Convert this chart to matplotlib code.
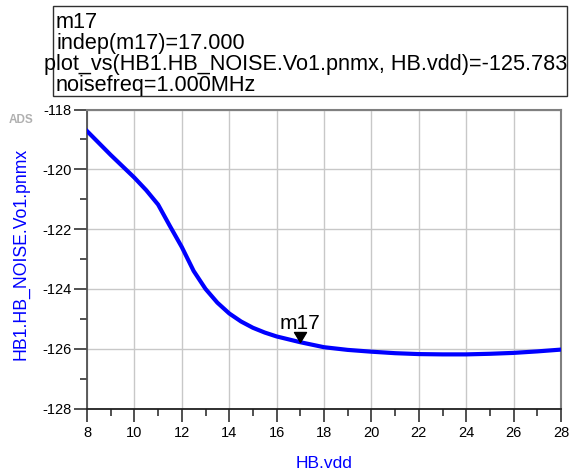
import matplotlib.pyplot as plt
from matplotlib.patches import Rectangle
from matplotlib.path import Path
from matplotlib.ticker import MultipleLocator

plt.rcParams['font.family'] = ['Liberation Sans', 'DejaVu Sans']
plt.rcParams['axes.unicode_minus'] = False

# HB noise sweep: output phase noise at 1 MHz offset vs supply voltage
vdd = [8, 9, 10, 10.5, 11, 11.5, 12, 12.5, 13, 13.5, 14, 14.5, 15, 15.5,
       16, 17, 18, 19, 20, 21, 22, 23, 24, 25, 26, 27, 28]
pnmx = [-118.72, -119.52, -120.28, -120.70, -121.18, -121.90, -122.60,
        -123.40, -124.00, -124.46, -124.82, -125.09, -125.30, -125.46,
        -125.59, -125.783, -125.95, -126.04, -126.10, -126.15, -126.18,
        -126.19, -126.19, -126.17, -126.14, -126.09, -126.03]

marker_name = 'm17'
marker_x = 17.0
marker_y = -125.783
noise_freq = '1.000MHz'

W, H = 573, 472
fig = plt.figure(figsize=(W / 100, H / 100), dpi=100)


def fx(px):
    return px / W


def fy(py):
    return 1 - py / H


# plot area in pixel coordinates
left, right, top, bottom = 87, 561, 109.5, 408.5
ax = fig.add_axes([fx(left), fy(bottom), (right - left) / W, (bottom - top) / H])

ax.plot(vdd, pnmx, color='#0000ff', lw=3, solid_joinstyle='round', zorder=3)

ax.set_xlim(8, 28)
ax.set_ylim(-128, -118)
ax.xaxis.set_major_locator(MultipleLocator(2))
ax.xaxis.set_minor_locator(MultipleLocator(1))
ax.yaxis.set_major_locator(MultipleLocator(2))
ax.yaxis.set_minor_locator(MultipleLocator(1))
ax.grid(which='major', color='#c8c8c8', lw=1.0)
ax.set_axisbelow(True)
ax.tick_params(which='major', direction='out', length=9.3, width=1.1,
               color='#202020', labelsize=10.5, labelcolor='black')
ax.tick_params(which='minor', direction='out', length=4.7, width=1.1,
               color='#202020')
ax.tick_params(axis='y', which='major', pad=1.5)
ax.tick_params(axis='x', which='major', pad=3)

ax.spines['left'].set_color('#505050')
ax.spines['left'].set_linewidth(1.3)
ax.spines['bottom'].set_color('#202020')
ax.spines['bottom'].set_linewidth(1.3)
for side in ('top', 'right'):
    ax.spines[side].set_color('#808080')
    ax.spines[side].set_linewidth(1.5)

# marker: downward triangle with its tip on the curve
tri = Path([(-0.6, 1.0), (0.6, 1.0), (0.0, 0.0), (-0.6, 1.0)],
           [Path.MOVETO, Path.LINETO, Path.LINETO, Path.CLOSEPOLY])
ax.plot([marker_x], [marker_y], marker=tri, ms=14.4, color='black',
        mec='black', lw=0, zorder=4)
ax.annotate(marker_name, (marker_x, marker_y), xytext=(0, 9.5),
            textcoords='offset points', ha='center', va='baseline',
            fontsize=15, zorder=5)

# axis labels
fig.text(fx(324), fy(463), 'HB.vdd', color='#0000ff', fontsize=12.5,
         ha='center', va='center')
fig.text(fx(21), fy(254), 'HB1.HB_NOISE.Vo1.pnmx', color='#0000ff',
         fontsize=12.7, rotation=90, ha='center', va='center')
fig.text(fx(21), fy(120), 'ADS', color='#b0b0b0', fontsize=8.5,
         fontweight='bold', ha='center', va='center')

# marker readout box
fig.patches.append(Rectangle((fx(53), fy(96)), (567 - 53) / W, (96 - 6) / H,
                             transform=fig.transFigure, fill=False,
                             ec='#303030', lw=1.0))
readout = [
    (56, 27.5, marker_name),
    (56, 49, f'indep({marker_name})={marker_x:.3f}'),
    (44, 70, f'plot_vs(HB1.HB_NOISE.Vo1.pnmx, HB.vdd)={marker_y:.3f}'),
    (56, 91, f'noisefreq={noise_freq}'),
]
for px, py, s in readout:
    fig.text(fx(px), fy(py), s, fontsize=15.6, ha='left', va='baseline')

fig.savefig('out.png', dpi=100)
